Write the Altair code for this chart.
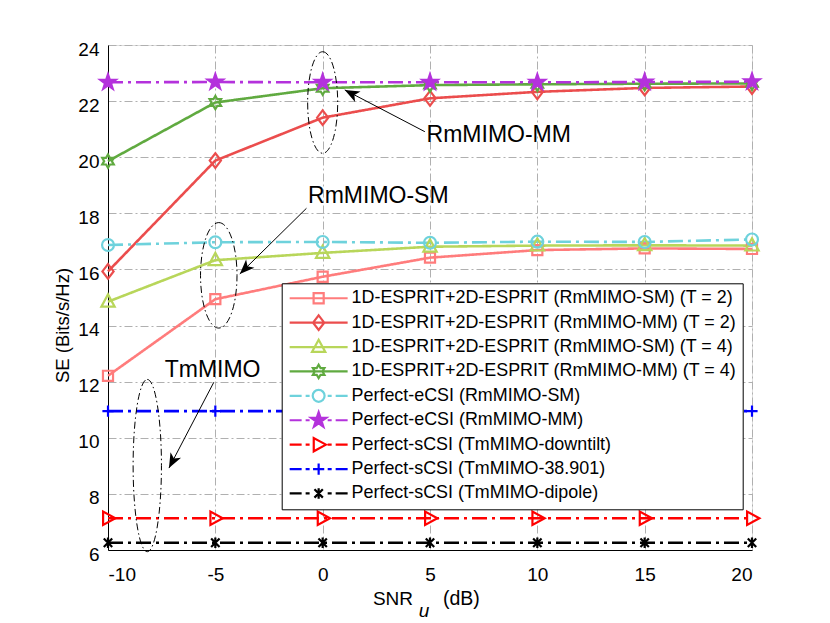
import math
import altair as alt
import pandas as pd

# ---------------- data ----------------
snr = [-10, -5, 0, 5, 10, 15, 20]

series_names = [
    "1D-ESPRIT+2D-ESPRIT (RmMIMO-SM) (T = 2)",
    "1D-ESPRIT+2D-ESPRIT (RmMIMO-MM) (T = 2)",
    "1D-ESPRIT+2D-ESPRIT (RmMIMO-SM) (T = 4)",
    "1D-ESPRIT+2D-ESPRIT (RmMIMO-MM) (T = 4)",
    "Perfect-eCSI (RmMIMO-SM)",
    "Perfect-eCSI (RmMIMO-MM)",
    "Perfect-sCSI (TmMIMO-downtilt)",
    "Perfect-sCSI (TmMIMO-38.901)",
    "Perfect-sCSI (TmMIMO-dipole)",
]

se_sm_t2 = [12.21, 14.94, 15.74, 16.42, 16.69, 16.75, 16.73]
se_mm_t2 = [15.93, 19.88, 21.41, 22.10, 22.33, 22.47, 22.52]
se_sm_t4 = [14.85, 16.33, 16.59, 16.81, 16.85, 16.86, 16.85]
se_mm_t4 = [19.86, 21.95, 22.46, 22.57, 22.60, 22.62, 22.63]
se_ecsi_sm = [16.87, 16.97, 16.98, 16.95, 16.99, 16.98, 17.07]
se_ecsi_mm = [22.67, 22.68, 22.67, 22.67, 22.67, 22.68, 22.69]
se_downtilt = [7.13, 7.13, 7.13, 7.13, 7.13, 7.13, 7.13]
se_38901 = [10.95, 10.95, 10.95, 10.95, 10.95, 10.95, 10.95]
se_dipole = [6.26, 6.26, 6.26, 6.26, 6.26, 6.26, 6.26]

all_series = [se_sm_t2, se_mm_t2, se_sm_t4, se_mm_t4, se_ecsi_sm,
              se_ecsi_mm, se_downtilt, se_38901, se_dipole]

x_ticks = [-10, -5, 0, 5, 10, 15, 20]
y_ticks = [6, 8, 10, 12, 14, 16, 18, 20, 22, 24]

# axis title pieces: "SNR", subscript "u", "(dB)"
x_title_parts = ["SNR", "u", "(dB)"]

# annotation texts (data coordinates)
ann_text = ["RmMIMO-MM", "RmMIMO-SM", "TmMIMO"]
ann_text_x = [4.84, -0.68, -7.36]
ann_text_y = [20.55, 18.36, 12.18]
arrow_tail_x = [4.76, -0.755, -5.07]
arrow_tail_y = [20.91, 18.18, 11.98]
arrow_tip_x = [1.03, -3.86, -7.16]
arrow_tip_y = [22.40, 15.84, 8.92]
ell_cx = [0.0, -4.84, -8.17]
ell_cy = [21.95, 15.79, 9.01]
ell_hw = [0.70, 0.85, 0.66]
ell_hh = [1.81, 1.88, 3.07]

# ---------------- styles ----------------
colors = ["#FF7C7C", "#EB4D4D", "#B8D65A", "#60AA40", "#6ED2DC",
          "#B432DC", "#FF0000", "#0000FF", "#000000"]
DD = [15, 5, 3, 5]
dashes = [[1, 0], [1, 0], [1, 0], [1, 0], DD, DD, DD, DD, DD]
fills = ["transparent"] * 5 + ["#B432DC"] + ["transparent"] * 3


def star_path(n, R, r, rot=-90.0):
    pts = []
    for k in range(2 * n):
        ang = math.radians(rot + k * 180.0 / n)
        rad = R if k % 2 == 0 else r
        pts.append((rad * math.cos(ang), rad * math.sin(ang)))
    return "M" + "L".join(f"{px:.3f},{py:.3f}" for px, py in pts) + "Z"


markers = [
    "M-0.72,-0.72H0.72V0.72H-0.72Z",
    "M0,-1.05L0.8,0L0,1.05L-0.8,0Z",
    "M0,-1.05L0.95,0.7L-0.95,0.7Z",
    star_path(6, 0.95, 0.95 / math.sqrt(3)),
    "M-0.85,0A0.85,0.85 0 1,0 0.85,0A0.85,0.85 0 1,0 -0.85,0Z",
    star_path(5, 1.15, 0.45),
    "M1.05,0L-0.7,0.95L-0.7,-0.95Z",
    "M-0.8,0H0.8M0,-0.8V0.8",
    "M-0.6,-0.6L0.6,0.6M-0.6,0.6L0.6,-0.6M0,-0.75V0.75",
]
solid_seg = "M-4.14,0H4.14"
dash_seg = "M-4.14,0H-2.43M-1.86,0H-1.29M1.29,0H1.86M2.43,0H4.14"
legend_paths = [(solid_seg if i < 4 else dash_seg) + markers[i] for i in range(9)]

W, H = 644, 505
XD, YD = [-10, 20], [6, 24]
PX = W / (XD[1] - XD[0])
PY = H / (YD[1] - YD[0])

FONT = "Liberation Sans"

# ---------------- tables ----------------
rows = []
for name, vals in zip(series_names, all_series):
    for xv, yv in zip(snr, vals):
        rows.append({"snr": xv, "se": yv, "series": name})
df = pd.DataFrame(rows)
leg_df = pd.DataFrame({"snr": [0] * 9, "se": [10] * 9, "label": series_names})

ell_rows = []
for cx, cy, hw, hh in zip(ell_cx, ell_cy, ell_hw, ell_hh):
    hpx = 2 * hh * PY
    a = (hw * PX) / (hh * PY)
    ell_rows.append({
        "cx": cx, "cy": cy, "sz": hpx * hpx,
        "shape": f"M0,-1A{a:.4f},1 0 1,1 0,1A{a:.4f},1 0 1,1 0,-1Z",
    })
ell_df = pd.DataFrame(ell_rows)

arr_rows = []
for tx, ty, hx, hy in zip(arrow_tail_x, arrow_tail_y, arrow_tip_x, arrow_tip_y):
    dx = (hx - tx) * PX
    dy = -(hy - ty) * PY
    ang = math.degrees(math.atan2(dx, -dy)) % 360
    arr_rows.append({"x": tx, "y": ty, "x2": hx, "y2": hy, "ang": ang})
arr_df = pd.DataFrame(arr_rows)
txt_df = pd.DataFrame({"x": ann_text_x, "y": ann_text_y, "t": ann_text})

xs = alt.Scale(domain=XD, nice=False, zero=False)
ys = alt.Scale(domain=YD, nice=False, zero=False)

grid_kw = dict(grid=True, gridColor="#b0b0b0", gridDash=[8, 3, 2, 3], gridWidth=1,
               ticks=False, domainColor="black", domainWidth=1,
               labelColor="black", titleColor="black", labelFont=FONT, titleFont=FONT,
               labelFontSize=19, titleFontSize=18.5, titleFontWeight="normal")

x_enc = alt.X("snr:Q", scale=xs, axis=alt.Axis(
    values=x_ticks, title=None, labelPadding=15,
    labelExpr="replace(datum.label, '\u2212', '-')", format="d", **grid_kw))
y_enc = alt.Y("se:Q", scale=ys, axis=alt.Axis(
    values=y_ticks, title="SE (Bits/s/Hz)", labelPadding=9, labelOffset=4,
    titleX=-46, titleY=280, titleAlign="center", titleBaseline="middle", titleAngle=270,
    format="d", **grid_kw))

lines = alt.Chart(df).mark_line(strokeWidth=2.6, opacity=1).encode(
    x=x_enc, y=y_enc,
    color=alt.Color("series:N", scale=alt.Scale(domain=series_names, range=colors), legend=None),
    strokeDash=alt.StrokeDash("series:N", scale=alt.Scale(domain=series_names, range=dashes), legend=None),
)

pts = alt.Chart(df).mark_point(size=196, strokeWidth=2.2, opacity=1).encode(
    x=alt.X("snr:Q"), y=alt.Y("se:Q"),
    shape=alt.Shape("series:N", scale=alt.Scale(domain=series_names, range=markers), legend=None),
    stroke=alt.Stroke("series:N", scale=alt.Scale(domain=series_names, range=colors), legend=None),
    fill=alt.Fill("series:N", scale=alt.Scale(domain=series_names, range=fills), legend=None),
)

leg = alt.Legend(title=None, orient="none", legendX=173.7, legendY=238.3,
                 symbolSize=196, symbolStrokeWidth=2.2, symbolOpacity=1,
                 labelFont=FONT, labelFontSize=17.9, labelColor="black", labelLimit=800,
                 strokeColor="black", fillColor="white", padding=6, rowPadding=-0.6,
                 symbolOffset=22, labelOffset=24, gridAlign="all", direction="vertical")

legend_layer = alt.Chart(leg_df).mark_point(size=196, strokeWidth=2.2, opacity=1).encode(
    x=alt.X("snr:Q"), y=alt.Y("se:Q"),
    shape=alt.Shape("label:N", scale=alt.Scale(domain=series_names, range=legend_paths), legend=leg),
    stroke=alt.Stroke("label:N", scale=alt.Scale(domain=series_names, range=colors), legend=leg),
    fill=alt.Fill("label:N", scale=alt.Scale(domain=series_names, range=fills), legend=leg),
).transform_filter("false")

ellipses = alt.Chart(ell_df).mark_point(stroke="black", strokeWidth=1, filled=False,
                                        strokeDash=[7, 3, 1.5, 3], opacity=1).encode(
    x=alt.X("cx:Q"), y=alt.Y("cy:Q"),
    shape=alt.Shape("shape:N", scale=None),
    size=alt.Size("sz:Q", scale=None),
)

arrow_lines = alt.Chart(arr_df).mark_rule(color="black", strokeWidth=1).encode(
    x=alt.X("x:Q"), y=alt.Y("y:Q"), x2="x2:Q", y2="y2:Q")

arrow_heads = alt.Chart(arr_df).mark_point(
    shape="M0,0L0.85,2.1L0,1.55L-0.85,2.1Z", size=196, filled=True,
    color="black", opacity=1, strokeWidth=0.5).encode(
    x=alt.X("x2:Q"), y=alt.Y("y2:Q"), angle=alt.Angle("ang:Q", scale=None))

texts = alt.Chart(txt_df).mark_text(align="left", baseline="alphabetic", font=FONT,
                                    fontSize=23, color="black").encode(
    x=alt.X("x:Q"), y=alt.Y("y:Q"), text="t:N")

# x-axis title drawn as three text pieces so the "u" can sit as a subscript
t_snr = alt.Chart(pd.DataFrame({"t": [x_title_parts[0]]})).mark_text(
    font=FONT, fontSize=19, color="black", align="right", baseline="alphabetic"
).encode(x=alt.value(305), y=alt.value(H + 55), text="t:N")
t_u = alt.Chart(pd.DataFrame({"t": [x_title_parts[1]]})).mark_text(
    font=FONT, fontSize=19, fontStyle="italic", color="black", align="center",
    baseline="alphabetic").encode(x=alt.value(316), y=alt.value(H + 67), text="t:N")
t_db = alt.Chart(pd.DataFrame({"t": [x_title_parts[2]]})).mark_text(
    font=FONT, fontSize=19.5, color="black", align="left", baseline="alphabetic"
).encode(x=alt.value(335), y=alt.value(H + 55), text="t:N")

chart = alt.layer(lines, pts, legend_layer, ellipses, arrow_lines, arrow_heads, texts,
                  t_snr, t_u, t_db).resolve_scale(
    color="independent", stroke="independent", fill="independent",
    shape="independent", strokeDash="independent", size="independent", angle="independent",
).properties(
    width=W, height=H,
    autosize=alt.AutoSizeParams(type="none"),
    padding={"left": 100, "top": 37, "right": 70, "bottom": 72},
).configure_view(stroke="black", strokeWidth=1).configure(background="white")

chart.save("out.html", embed_options={"renderer": "svg", "actions": False})
